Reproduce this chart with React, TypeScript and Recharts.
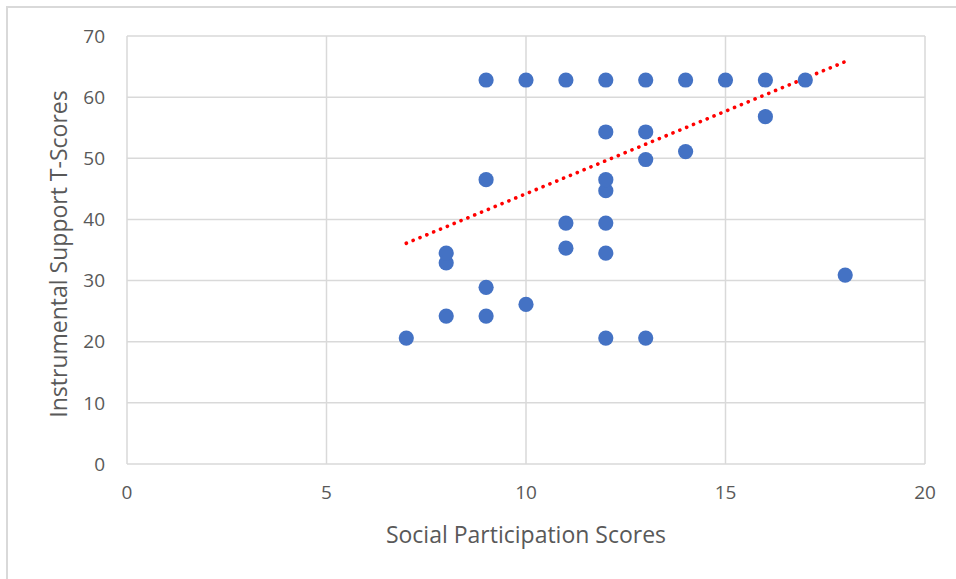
import React from "react";
import {
  ScatterChart,
  Scatter,
  XAxis,
  YAxis,
  CartesianGrid,
  ReferenceLine,
} from "recharts";

// Social participation score for each respondent
const participation = [
  7, 8, 8, 8, 9, 9, 9, 9, 10, 10, 11, 11, 11, 12, 12, 12, 12, 12, 12, 12, 13,
  13, 13, 13, 14, 14, 15, 16, 16, 17, 18,
];
// Instrumental support T-score for the same respondents
const tScores = [
  20.6, 24.2, 32.9, 34.5, 24.2, 28.9, 46.5, 62.8, 26.1, 62.8, 35.3, 39.4, 62.8,
  20.6, 34.5, 39.4, 44.7, 46.5, 54.3, 62.8, 20.6, 49.8, 54.3, 62.8, 51.1, 62.8,
  62.8, 56.8, 62.8, 62.8, 30.9,
];
// Linear trend line end points
const trendX = [7, 18];
const trendY = [36.1, 65.8];

const xTicks = [0, 5, 10, 15, 20];
const yTicks = [0, 10, 20, 30, 40, 50, 60, 70];

const points = participation.map((x, i) => ({ x, y: tScores[i] }));
const trend = trendX.map((x, i) => ({ x, y: trendY[i] }));

const FONT = "'Open Sans', sans-serif";
const TEXT = "#595959";
const GRID = "#d9d9d9";

export default function App() {
  return (
    <div style={{ position: "absolute", left: 0, top: 0, width: 956, height: 579, background: "#fff", overflow: "hidden" }}>
      <div
        style={{
          position: "absolute",
          left: 6,
          top: 6,
          width: 1000,
          height: 1000,
          borderLeft: `2px solid ${GRID}`,
          borderTop: `2px solid ${GRID}`,
        }}
      />
      <div style={{ position: "absolute", left: 0, top: 0 }}>
        <ScatterChart
          width={956}
          height={579}
          margin={{ top: 36, right: 31, bottom: 0, left: 47 }}
          style={{ fontFamily: FONT }}
        >
          <CartesianGrid stroke={GRID} strokeWidth={1.5} />
          <XAxis
            type="number"
            dataKey="x"
            domain={[0, 20]}
            ticks={xTicks}
            axisLine={false}
            tickLine={false}
            tickSize={0}
            tickMargin={22}
            tick={{ fill: TEXT, fontSize: 19, fontFamily: FONT }}
            label={{
              value: "Social Participation Scores",
              position: "insideBottom",
              offset: 36,
              fill: TEXT,
              fontSize: 23,
              fontFamily: FONT,
            }}
            height={115}
          />
          <YAxis
            type="number"
            dataKey="y"
            domain={[0, 70]}
            ticks={yTicks}
            axisLine={false}
            tickLine={false}
            tickSize={0}
            tickMargin={22}
            width={80}
            tick={{ fill: TEXT, fontSize: 19, fontFamily: FONT }}
            label={{
              value: "Instrumental Support T-Scores",
              angle: -90,
              position: "insideLeft",
              offset: 0,
              dx: 12,
              dy: 4,
              style: { textAnchor: "middle" },
              fill: TEXT,
              fontSize: 23,
              fontFamily: FONT,
            }}
          />
          <Scatter
            data={points}
            fill="#4472C4"
            isAnimationActive={false}
            shape={(p: any) => (
              <circle cx={p.cx} cy={p.cy} r={7.6} fill="#4472C4" />
            )}
          />
          <ReferenceLine
            segment={trend}
            stroke="#FF0000"
            strokeWidth={3.6}
            strokeDasharray="0.1 7.3"
            strokeLinecap="round"
            ifOverflow="visible"
          />
        </ScatterChart>
      </div>
    </div>
  );
}
